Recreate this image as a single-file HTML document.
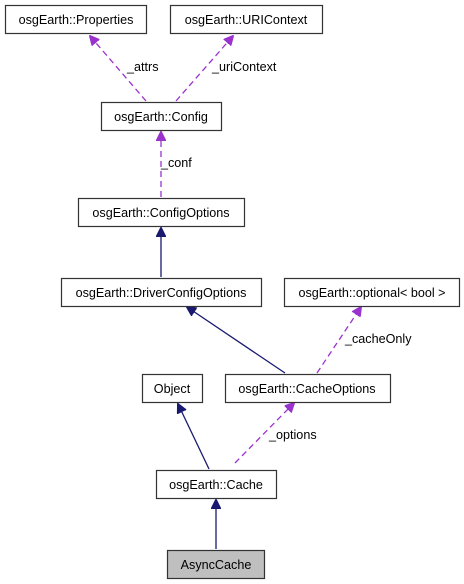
<!DOCTYPE html>
<html><head><meta charset="utf-8"><style>
html,body{margin:0;padding:0;background:#fff;}
svg{display:block;font-family:"Liberation Sans",Arial,sans-serif;font-size:12.6px;}
</style></head><body>
<svg width="464" height="584" viewBox="0 0 464 584" xmlns="http://www.w3.org/2000/svg">
<defs>
<marker id="n" markerWidth="10" markerHeight="10" refX="9" refY="5" orient="auto" markerUnits="userSpaceOnUse"><path d="M0,0 L10,5 L0,10 z" fill="#191970" stroke="#191970"/></marker>
<marker id="p" markerWidth="10" markerHeight="10" refX="9" refY="5" orient="auto" markerUnits="userSpaceOnUse"><path d="M0,0 L10,5 L0,10 z" fill="#9a32cd" stroke="#9a32cd"/></marker>
</defs>
<g fill="none" stroke-width="1.3">
<line x1="146" y1="101" x2="90" y2="36" stroke="#9a32cd" stroke-dasharray="6,4" marker-end="url(#p)"/>
<line x1="176" y1="101" x2="233" y2="36" stroke="#9a32cd" stroke-dasharray="6,4" marker-end="url(#p)"/>
<line x1="161" y1="197" x2="161" y2="132" stroke="#9a32cd" stroke-dasharray="6,4" marker-end="url(#p)"/>
<line x1="161" y1="277" x2="161" y2="228" stroke="#191970" marker-end="url(#n)"/>
<line x1="285" y1="373" x2="187" y2="307" stroke="#191970" marker-end="url(#n)"/>
<line x1="317" y1="373" x2="361" y2="307" stroke="#9a32cd" stroke-dasharray="6,4" marker-end="url(#p)"/>
<line x1="209" y1="469" x2="178" y2="404" stroke="#191970" marker-end="url(#n)"/>
<line x1="235" y1="463" x2="294" y2="403" stroke="#9a32cd" stroke-dasharray="6,4" marker-end="url(#p)"/>
<line x1="216" y1="549" x2="216" y2="500" stroke="#191970" marker-end="url(#n)"/>
</g>
<g stroke="#333" stroke-width="1.2" fill="#fff">
<rect x="5.5" y="5.5" width="141" height="28"/>
<rect x="170.5" y="5.5" width="152" height="28"/>
<rect x="101.5" y="102.5" width="120" height="28"/>
<rect x="78.5" y="198.5" width="166" height="28"/>
<rect x="61.5" y="278.5" width="200" height="28"/>
<rect x="284.5" y="278.5" width="175" height="28"/>
<rect x="142.5" y="374.5" width="60" height="28"/>
<rect x="225.5" y="374.5" width="165" height="28"/>
<rect x="156.5" y="470.5" width="120" height="28"/>
<rect x="167.5" y="550.5" width="97" height="28" fill="#bfbfbf"/>
</g>
<g fill="#000" text-anchor="middle">
<text x="76" y="24">osgEarth::Properties</text>
<text x="246" y="24">osgEarth::URIContext</text>
<text x="161" y="121">osgEarth::Config</text>
<text x="161" y="217">osgEarth::ConfigOptions</text>
<text x="161" y="297">osgEarth::DriverConfigOptions</text>
<text x="372" y="297">osgEarth::optional&lt; bool &gt;</text>
<text x="172" y="393">Object</text>
<text x="307" y="393">osgEarth::CacheOptions</text>
<text x="216" y="489">osgEarth::Cache</text>
<text x="216" y="569">AsyncCache</text>
</g>
<g fill="#000">
<text x="127" y="71">_attrs</text>
<text x="212" y="71">_uriContext</text>
<text x="161" y="167">_conf</text>
<text x="345" y="343">_cacheOnly</text>
<text x="269" y="439">_options</text>
</g>
</svg>
</body></html>
